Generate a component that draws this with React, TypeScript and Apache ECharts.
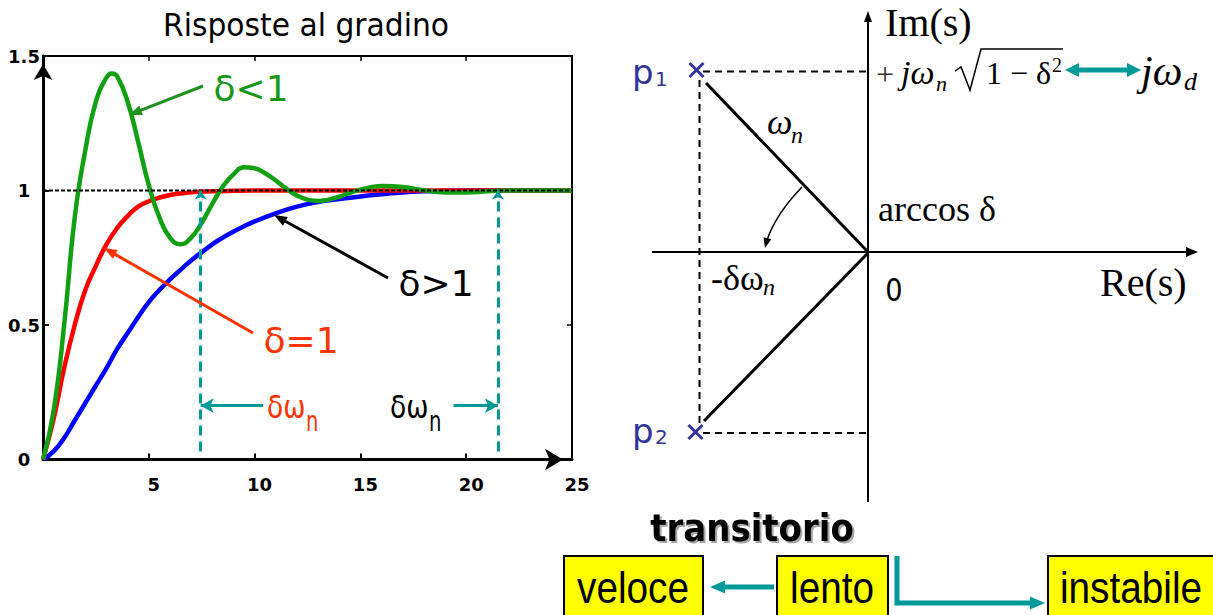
import { useEffect, useRef } from 'react';
import * as echarts from 'echarts';

// Step responses y(t) of a second-order system (ωn = 1) for three damping ratios
const underdampedT = [0, 0.5, 1, 1.5, 2, 2.5, 3, 3.25, 3.5, 4, 4.5, 5, 5.5, 6, 6.5, 7, 7.5, 8, 8.5, 9, 9.5, 10, 10.5, 11, 11.5, 12, 12.5, 13, 13.5, 14, 14.5, 15, 15.5, 16, 17, 18, 19, 20, 21, 22, 23, 24, 25];
const underdampedY = [0, 0.18, 0.5, 0.9, 1.15, 1.33, 1.42, 1.435, 1.425, 1.33, 1.18, 1.02, 0.9, 0.825, 0.8, 0.825, 0.88, 0.95, 1.015, 1.06, 1.086, 1.083, 1.064, 1.037, 1.007, 0.981, 0.966, 0.961, 0.966, 0.977, 0.991, 1.003, 1.012, 1.017, 1.013, 1.001, 0.993, 0.993, 0.997, 1, 1, 1, 1];

const criticalT = [0, 0.5, 1, 1.5, 2, 2.5, 3, 3.5, 4, 4.5, 5, 6, 7, 8, 9, 10, 12, 15, 20, 25];
const criticalY = [0, 0.15, 0.34, 0.5, 0.63, 0.72, 0.8, 0.86, 0.905, 0.94, 0.96, 0.983, 0.993, 0.997, 0.999, 1, 1, 1, 1, 1];

const overdampedT = [0, 0.5, 1, 1.5, 2, 2.5, 3, 3.5, 4, 4.5, 5, 5.5, 6, 6.5, 7, 7.5, 8, 8.5, 9, 9.5, 10, 11, 12, 13, 14, 15, 16, 17, 18, 19, 20, 22, 25];
const overdampedY = [0, 0.03, 0.08, 0.145, 0.21, 0.275, 0.34, 0.41, 0.47, 0.53, 0.585, 0.63, 0.67, 0.705, 0.74, 0.77, 0.8, 0.825, 0.847, 0.867, 0.885, 0.915, 0.94, 0.957, 0.968, 0.978, 0.986, 0.993, 0.997, 0.999, 1, 1, 1];

const steadyState = 1;
const settleTimes = [7.45, 21.5];
const spanArrowLevel = 0.2;
const spanArrowStarts = [10.4, 19.4];

const TEAL = '#009a98';
const SERIF = "'Liberation Serif', 'DejaVu Serif', serif";
const SANS = "'DejaVu Sans', Verdana, sans-serif";
const ARIAL = "'Liberation Sans', Arial, sans-serif";
const POLE = '#333399';

const pairs = (t: number[], y: number[]) => t.map((v, i) => [v, y[i]]);

type TxtOpt = {
  size: number;
  family?: string;
  weight?: string;
  style?: string;
  color?: string;
  align?: string;
  sx?: number;
  shadow?: boolean;
};

function txt(x: number, y: number, s: string, o: TxtOpt) {
  const style: any = {
    text: s,
    fontSize: o.size,
    fontFamily: o.family || SANS,
    fontWeight: o.weight || 'normal',
    fontStyle: o.style || 'normal',
    fill: o.color || '#000',
    align: o.align || 'center',
    verticalAlign: 'middle',
  };
  if (o.shadow) {
    style.textShadowColor = 'rgba(0,0,0,0.35)';
    style.textShadowOffsetX = 2;
    style.textShadowOffsetY = 2;
    style.textShadowBlur = 1;
  }
  return { type: 'text', x, y, scaleX: o.sx || 1, z: 50, silent: true, style };
}

function head(tx: number, ty: number, fx: number, fy: number, color: string, len: number, half: number) {
  const d = Math.hypot(tx - fx, ty - fy);
  const ux = (tx - fx) / d;
  const uy = (ty - fy) / d;
  const bx = tx - ux * len;
  const by = ty - uy * len;
  return {
    type: 'polygon',
    z: 50,
    silent: true,
    shape: { points: [[tx, ty], [bx - uy * half, by + ux * half], [bx + uy * half, by - ux * half]] },
    style: { fill: color },
  };
}

function seg(x1: number, y1: number, x2: number, y2: number, color: string, width: number, dash?: number[]) {
  return {
    type: 'line',
    z: 50,
    silent: true,
    shape: { x1, y1, x2, y2 },
    style: { stroke: color, lineWidth: width, lineDash: dash || null },
  };
}

function arrow(x1: number, y1: number, x2: number, y2: number, color: string, width: number, len: number, half: number) {
  const d = Math.hypot(x2 - x1, y2 - y1);
  const ux = (x2 - x1) / d;
  const uy = (y2 - y1) / d;
  return [seg(x1, y1, x2 - ux * len * 0.8, y2 - uy * len * 0.8, color, width), head(x2, y2, x1, y1, color, len, half)];
}

function cross(cx: number, cy: number, r: number) {
  return [seg(cx - r, cy - r, cx + r, cy + r, POLE, 3), seg(cx - r, cy + r, cx + r, cy - r, POLE, 3)];
}

function buildGraphics() {
  const g: any[] = [];

  // title of the step-response panel
  g.push(txt(306, 25, 'Risposte al gradino', { size: 32, sx: 0.93 }));

  // curve annotations
  g.push(...arrow(203, 86, 129, 115, '#1f8f1f', 3, 13, 5));
  g.push(...arrow(253, 333, 104, 248, '#ff3300', 3, 13, 5));
  g.push(...arrow(388, 278, 274, 215, '#000', 3, 13, 5));
  g.push(txt(251, 88, 'δ<1', { size: 36, color: '#169816' }));
  g.push(txt(436, 283, 'δ>1', { size: 36 }));
  g.push(txt(301, 340, 'δ=1', { size: 36, color: '#ff3300' }));
  g.push(txt(267, 407, 'δω', { size: 32, color: '#ff3300', align: 'left', sx: 0.83 }));
  g.push(txt(306, 422, 'n', { size: 28, color: '#ff3300', align: 'left', sx: 0.7 }));
  g.push(txt(390, 407, 'δω', { size: 32, align: 'left', sx: 0.83 }));
  g.push(txt(429, 422, 'n', { size: 28, align: 'left', sx: 0.7 }));

  // complex plane axes
  g.push(seg(868, 502, 868, 20, '#000', 2), head(868, 11, 868, 40, '#000', 11, 4));
  g.push(seg(652, 252, 1188, 252, '#000', 2), head(1198, 252, 1150, 252, '#000', 12, 5));
  g.push(txt(885, 22, 'Im(s)', { size: 40, family: SERIF, align: 'left' }));
  g.push(txt(1100, 282, 'Re(s)', { size: 40, family: SERIF, align: 'left' }));
  g.push(txt(894, 290, '0', { size: 32, sx: 0.85 }));

  // projections of the poles
  const dash = [7, 5];
  g.push(seg(703, 71.5, 868, 71.5, '#000', 2, dash));
  g.push(seg(699.5, 80, 699.5, 426, '#000', 2, dash));
  g.push(seg(703, 433, 868, 433, '#000', 2, dash));

  // vectors from the origin to the poles
  g.push(seg(706, 83, 868, 252, '#000', 3));
  g.push(seg(868, 253, 704, 421, '#000', 3));
  g.push(...cross(696.5, 70, 7), ...cross(695.5, 432, 7));

  // pole labels
  g.push(txt(632, 72, 'p', { size: 34, color: POLE, align: 'left' }));
  g.push(txt(655, 79, '1', { size: 20, color: POLE, align: 'left' }));
  g.push(txt(632, 431, 'p', { size: 34, color: POLE, align: 'left' }));
  g.push(txt(655, 437, '2', { size: 20, color: POLE, align: 'left' }));

  // angle arrow
  g.push({
    type: 'bezierCurve',
    z: 50,
    silent: true,
    shape: { x1: 802, y1: 187, x2: 767, y2: 240, cpx1: 776, cpy1: 214 },
    style: { stroke: '#000', lineWidth: 1.5, fill: null },
  });
  g.push(head(765, 248, 768, 236, '#000', 10, 4));
  g.push(txt(767, 122, 'ω', { size: 36, family: SERIF, style: 'italic', align: 'left' }));
  g.push(txt(791, 135, 'n', { size: 24, family: SERIF, style: 'italic', align: 'left' }));
  g.push(txt(878, 209, 'arccos δ', { size: 36, family: SERIF, align: 'left' }));
  g.push(txt(711, 278, '-δω', { size: 36, family: SERIF, align: 'left' }));
  g.push(txt(763, 287, 'n', { size: 24, family: SERIF, style: 'italic', align: 'left' }));

  // imaginary part of the poles
  g.push(txt(876, 74, '+', { size: 32, family: SERIF, align: 'left', color: '#333' }));
  g.push(txt(901, 72, 'jω', { size: 34, family: SERIF, style: 'italic', align: 'left' }));
  g.push(txt(936, 83, 'n', { size: 22, family: SERIF, style: 'italic', align: 'left' }));
  g.push({
    type: 'polyline',
    z: 50,
    silent: true,
    shape: { points: [[955, 71], [961, 67], [970, 90], [981, 49], [1063, 49]] },
    style: { stroke: '#000', lineWidth: 1.5, fill: null },
  });
  g.push(txt(986, 73, '1 − δ', { size: 32, family: SERIF, align: 'left' }));
  g.push(txt(1052, 65, '2', { size: 20, family: SERIF, align: 'left' }));
  g.push(seg(1078, 70, 1128, 70, TEAL, 5), head(1065, 70, 1100, 70, TEAL, 14, 7), head(1141, 70, 1100, 70, TEAL, 14, 7));
  g.push(txt(1141, 71, 'jω', { size: 42, family: SERIF, style: 'italic', align: 'left' }));
  g.push(txt(1184, 81, 'd', { size: 26, family: SERIF, style: 'italic', align: 'left' }));

  // transient classification
  g.push(txt(752, 528, 'transitorio', { size: 37, weight: 'bold', sx: 0.92, shadow: true }));
  const boxes: [number, number][] = [
    [564, 139],
    [777, 111],
    [1048, 170],
  ];
  for (const [x, w] of boxes) {
    g.push({
      type: 'rect',
      z: 49,
      silent: true,
      shape: { x, y: 556, width: w, height: 70 },
      style: { fill: '#ffff00', stroke: '#000', lineWidth: 2 },
    });
  }
  g.push(txt(633, 588, 'veloce', { size: 44, family: ARIAL, sx: 0.88 }));
  g.push(txt(832, 588, 'lento', { size: 44, family: ARIAL, sx: 0.88 }));
  g.push(txt(1131, 588, 'instabile', { size: 44, family: ARIAL, sx: 0.88 }));
  g.push(...arrow(774, 587, 710, 587, TEAL, 5, 15, 6.5));
  g.push({
    type: 'polyline',
    z: 50,
    silent: true,
    shape: { points: [[897, 556], [897, 603], [1032, 603]] },
    style: { stroke: TEAL, lineWidth: 5, fill: null },
  });
  g.push(head(1045, 603, 1000, 603, TEAL, 15, 6.5));
  return g;
}

function buildOption() {
  const curve = (name: string, t: number[], y: number[], color: string) => ({
    name,
    type: 'line',
    data: pairs(t, y),
    smooth: 0.5,
    showSymbol: false,
    symbol: 'none',
    silent: true,
    lineStyle: { color, width: 4.5 },
    emphasis: { disabled: true },
  });

  const tealDash = { type: [10, 6], width: 3, color: TEAL };
  const tealSolid = { type: 'solid', width: 3, color: TEAL };

  const markData: any[] = [
    ...settleTimes.map((t) => [
      { coord: [t, 0.03], symbol: 'none', lineStyle: tealDash },
      { coord: [t, steadyState], symbol: 'arrow', symbolSize: [9, 9] },
    ]),
    ...settleTimes.map((t, i) => [
      { coord: [spanArrowStarts[i], spanArrowLevel], symbol: 'none', lineStyle: tealSolid },
      { coord: [t, spanArrowLevel], symbol: 'arrow', symbolSize: [11, 13] },
    ]),
  ];

  const labelFont = { color: '#000', fontSize: 18, fontFamily: SANS, fontWeight: 'bold' };

  return {
    animation: false,
    backgroundColor: '#ffffff',
    grid: { left: 43, top: 56, width: 529, height: 403.5, containLabel: false },
    xAxis: [
      {
        type: 'value',
        min: 0,
        max: 25,
        interval: 5,
        position: 'bottom',
        axisLine: {
          show: true,
          onZero: false,
          lineStyle: { color: '#000', width: 3 },
          symbol: ['none', 'arrow'],
          symbolSize: [16, 18],
          symbolOffset: [0, -9],
        },
        axisTick: { show: true, inside: true, length: 6, lineStyle: { color: '#000', width: 2 } },
        axisLabel: { ...labelFont, margin: 16, showMinLabel: false, padding: [0, 0, 0, 10] },
        splitLine: { show: false },
      },
      {
        type: 'value',
        min: 0,
        max: 25,
        interval: 5,
        position: 'top',
        axisLine: { show: true, onZero: false, lineStyle: { color: '#000', width: 2 } },
        axisTick: { show: true, inside: true, length: 5, lineStyle: { color: '#000', width: 1.5 } },
        axisLabel: { show: false },
        splitLine: { show: false },
      },
    ],
    yAxis: [
      {
        type: 'value',
        min: 0,
        max: 1.5,
        interval: 0.5,
        position: 'left',
        axisLine: {
          show: true,
          onZero: false,
          lineStyle: { color: '#000', width: 3 },
          symbol: ['none', 'arrow'],
          symbolSize: [14, 16],
          symbolOffset: [0, -8],
        },
        axisTick: { show: true, inside: true, length: 6, lineStyle: { color: '#000', width: 2 } },
        axisLabel: { ...labelFont, margin: 19, align: 'center', padding: [20, 0, 0, 0] },
        splitLine: { show: false },
      },
      {
        type: 'value',
        min: 0,
        max: 1.5,
        interval: 0.5,
        position: 'right',
        axisLine: { show: true, onZero: false, lineStyle: { color: '#000', width: 2 } },
        axisTick: { show: true, inside: true, length: 5, lineStyle: { color: '#000', width: 1.5 } },
        axisLabel: { show: false },
        splitLine: { show: false },
      },
    ],
    series: [
      curve('δ>1', overdampedT, overdampedY, '#0000ff'),
      curve('δ=1', criticalT, criticalY, '#ff0000'),
      curve('δ<1', underdampedT, underdampedY, '#11a011'),
      {
        name: 'regime',
        type: 'line',
        data: [[0, steadyState], [25, steadyState]],
        showSymbol: false,
        symbol: 'none',
        silent: true,
        z: 4,
        lineStyle: { color: '#000', width: 2, type: [4, 2] },
        emphasis: { disabled: true },
        markLine: {
          silent: true,
          animation: false,
          label: { show: false },
          emphasis: { disabled: true },
          data: markData,
        },
      },
    ],
    graphic: { elements: buildGraphics() },
  };
}

export default function App() {
  const ref = useRef<HTMLDivElement>(null);
  useEffect(() => {
    if (!ref.current) return;
    const chart = echarts.init(ref.current, undefined, { renderer: 'svg' });
    chart.setOption(buildOption() as any);
    return () => chart.dispose();
  }, []);
  return (
    <div
      ref={ref}
      style={{ position: 'fixed', left: 0, top: 0, width: 1213, height: 615, background: '#ffffff' }}
    />
  );
}
